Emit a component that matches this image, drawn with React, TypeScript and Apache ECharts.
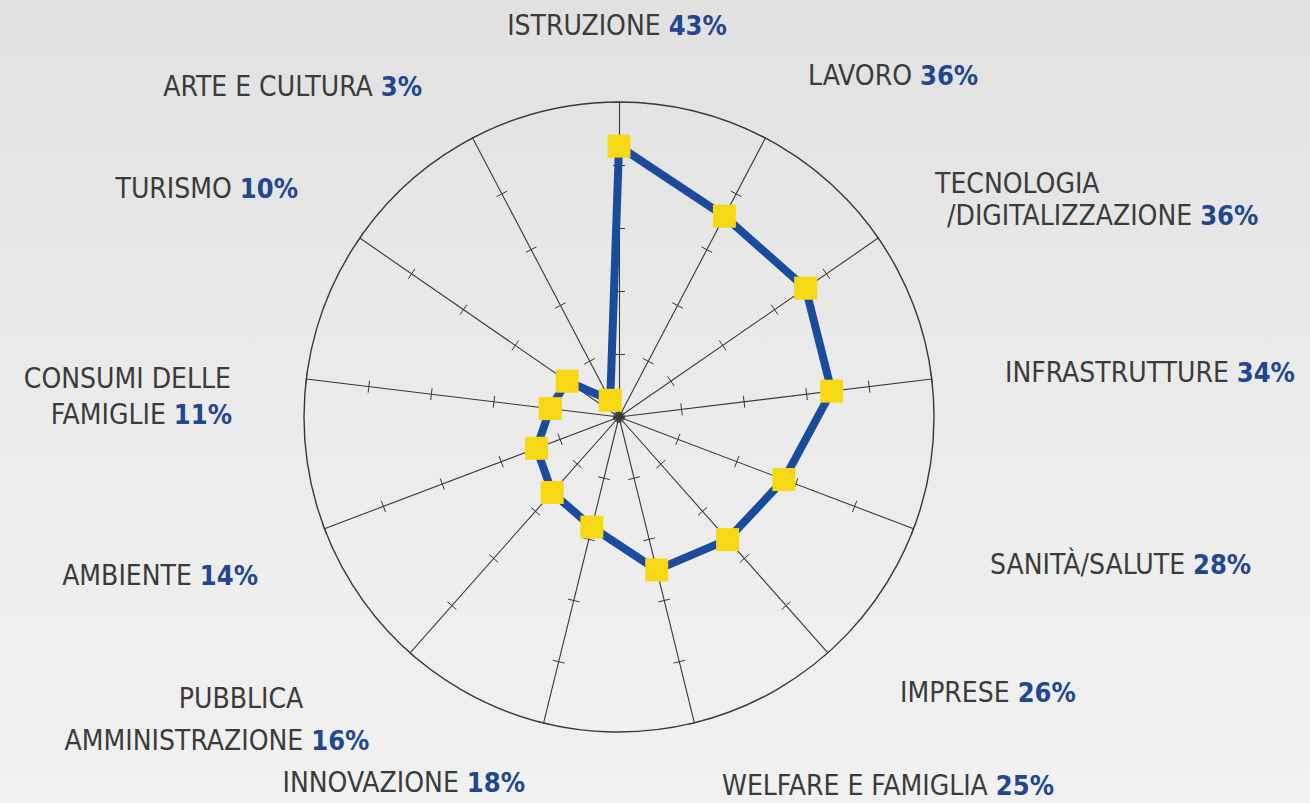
import React, { useEffect, useRef } from 'react';
import * as echarts from 'echarts';

// Categories in clockwise reading order, starting from the top
const categories = [
  'ISTRUZIONE',
  'LAVORO',
  'TECNOLOGIA\n/DIGITALIZZAZIONE',
  'INFRASTRUTTURE',
  'SANITÀ/SALUTE',
  'IMPRESE',
  'WELFARE E FAMIGLIA',
  'INNOVAZIONE',
  'PUBBLICA\nAMMINISTRAZIONE',
  'AMBIENTE',
  'CONSUMI DELLE\nFAMIGLIE',
  'TURISMO',
  'ARTE E CULTURA',
];
const values = [43, 36, 36, 34, 28, 26, 25, 18, 16, 14, 11, 10, 3];
const axisMax = 50;
const splitCount = 5;

// Label layout only: alignment and one [x, y] anchor per text line
const labelLayout: { align: string; lines: [number, number][] }[] = [
  { align: 'center', lines: [[617, 25]] },
  { align: 'left', lines: [[808, 75]] },
  { align: 'left', lines: [[935, 183], [947, 215]] },
  { align: 'left', lines: [[1005, 372]] },
  { align: 'left', lines: [[990, 564]] },
  { align: 'left', lines: [[900, 692]] },
  { align: 'left', lines: [[722, 785]] },
  { align: 'right', lines: [[525, 782]] },
  { align: 'center', lines: [[241, 698], [217, 740]] },
  { align: 'right', lines: [[258, 575]] },
  { align: 'right', lines: [[231, 378], [232, 414]] },
  { align: 'right', lines: [[298, 188]] },
  { align: 'right', lines: [[422, 86]] },
];

const FONT = "'DejaVu Sans Condensed', 'Liberation Sans Narrow', 'DejaVu Sans', sans-serif";
const NAME_COLOR = '#3b3b3b';
const VALUE_COLOR = '#22468f';
const LINE_COLOR = '#1b4b9d';
const POINT_COLOR = '#f7d814';
const AXIS_COLOR = '#383838';
const NAME_SIZE = 28;
const VALUE_SIZE = 27;

export default function App() {
  const ref = useRef<HTMLDivElement>(null);
  useEffect(() => {
    document.body.style.margin = '0';
    const chart = echarts.init(ref.current!, null, { renderer: 'svg' });
    const n = categories.length;
    // ECharts radar runs counter-clockwise; reorder so the reading order is clockwise
    const order = [0, ...Array.from({ length: n - 1 }, (_, i) => n - 1 - i)];
    const indicator = order.map((i) => ({ name: categories[i], min: 0, max: axisMax }));
    const radarValues = order.map((i) => values[i]);

    const circleColors = Array.from({ length: splitCount + 1 }, (_, i) =>
      i === splitCount ? AXIS_COLOR : 'rgba(0,0,0,0)'
    );

    const baseRadar = {
      center: [619, 417],
      radius: 315,
      startAngle: 90,
      shape: 'circle',
      splitNumber: splitCount,
      indicator,
      axisName: { show: false },
      axisLabel: { show: false },
      splitArea: { show: false },
    };

    const labels: any[] = [];
    categories.forEach((name, i) => {
      const { align, lines } = labelLayout[i];
      const parts = name.split('\n');
      parts.forEach((ln, k) => {
        const [x, y] = lines[k];
        const isLast = k === parts.length - 1;
        labels.push({
          type: 'text',
          z: 10,
          style: {
            text: isLast ? `{n|${ln}} {v|${values[i]}%}` : `{n|${ln}}`,
            x,
            y,
            align,
            verticalAlign: 'middle',
            fill: NAME_COLOR,
            font: `${NAME_SIZE}px ${FONT}`,
            rich: {
              n: { fontFamily: FONT, fontSize: NAME_SIZE, fill: NAME_COLOR },
              v: { fontFamily: FONT, fontSize: VALUE_SIZE, fontWeight: 'bold', fill: VALUE_COLOR },
            },
          },
        });
      });
    });

    chart.setOption({
      animation: false,
      backgroundColor: {
        type: 'linear',
        x: 0,
        y: 0,
        x2: 0,
        y2: 1,
        colorStops: [
          { offset: 0, color: '#e1e1e1' },
          { offset: 0.5, color: '#ebebeb' },
          { offset: 1, color: '#f1f1f1' },
        ],
      },
      radar: [
        {
          ...baseRadar,
          axisLine: { show: true, lineStyle: { color: AXIS_COLOR, width: 1.1 } },
          axisTick: { show: true, length: 6, lineStyle: { color: AXIS_COLOR, width: 1 } },
          splitLine: { show: true, lineStyle: { color: circleColors, width: 1.4 } },
        },
        {
          ...baseRadar,
          axisLine: { show: false },
          axisTick: { show: true, length: -6, lineStyle: { color: AXIS_COLOR, width: 1 } },
          splitLine: { show: false },
        },
      ],
      graphic: labels,
      series: [
        {
          type: 'radar',
          radarIndex: 0,
          symbol: 'rect',
          symbolSize: 23,
          itemStyle: { color: POINT_COLOR },
          lineStyle: { color: LINE_COLOR, width: 8 },
          data: [{ value: radarValues, name: 'Percentuale' }],
          z: 5,
        },
      ],
    });
    return () => chart.dispose();
  }, []);
  return <div ref={ref} style={{ width: 1310, height: 803 }} />;
}
